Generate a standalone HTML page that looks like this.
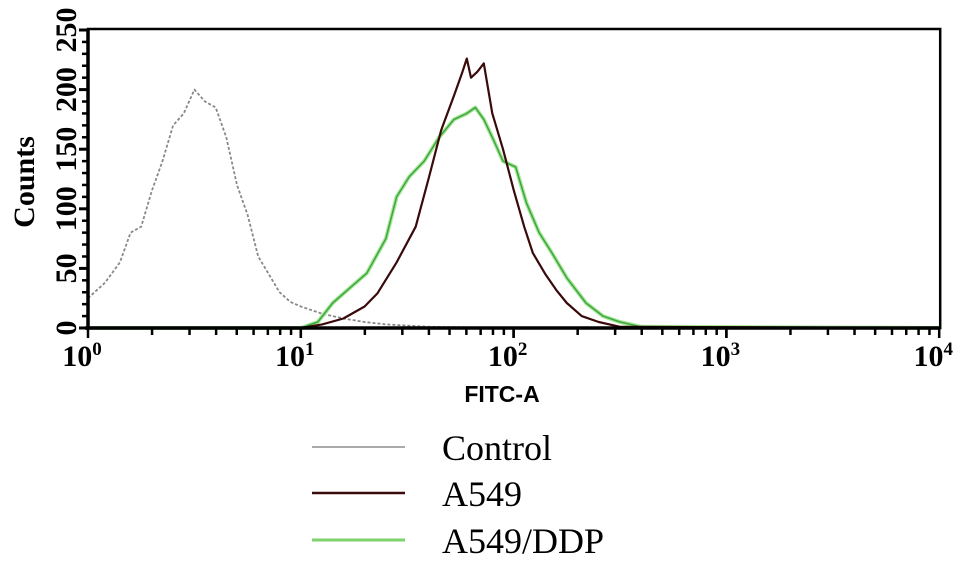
<!DOCTYPE html>
<html><head><meta charset="utf-8"><style>
body{margin:0;background:#fff;width:969px;height:572px;overflow:hidden}
svg{display:block}
.tk{font-family:"Liberation Serif",serif;font-weight:bold;font-size:30px;fill:#000}
</style></head><body>
<svg id="chart" width="969" height="572" xmlns="http://www.w3.org/2000/svg">
<g id="plot"></g>
<text class="tk" transform="translate(34,182) rotate(-90)" text-anchor="middle" font-size="28">Counts</text>
<text x="502" y="402" text-anchor="middle" font-family="Liberation Sans, sans-serif" font-weight="bold" font-size="23">FITC-A</text>
<g font-family="Liberation Serif, serif" font-size="36">
<g><line x1="312" y1="447" x2="405" y2="447" stroke="#aaa" stroke-width="2"/><text x="442" y="460">Control</text></g>
<g><line x1="312" y1="493" x2="405" y2="493" stroke="#3a0a0a" stroke-width="2.5"/><text x="442" y="506">A549</text></g>
<g><line x1="312" y1="540" x2="405" y2="540" stroke="#7fd36a" stroke-width="3"/><text x="442" y="553">A549/DDP</text></g>
</g>
</svg>
<script>
const yTicks=[0,50,100,150,200,250];
const xDecades=[0,1,2,3,4];
const controlLog=[0,0.08,0.15,0.2,0.25,0.3,0.35,0.4,0.45,0.5,0.55,0.6,0.65,0.7,0.75,0.8,0.85,0.9,0.95,1.0,1.1,1.2,1.3,1.4,1.5,1.6,1.8,2.0,4];
const controlCounts=[25,38,55,80,85,115,140,170,180,200,190,185,160,120,95,60,45,30,22,18,12,8,5,3,2,1,0.5,0,0];
const a549Log=[0,1.0,1.1,1.2,1.3,1.36,1.45,1.54,1.6,1.66,1.72,1.76,1.78,1.8,1.83,1.86,1.9,1.95,2.0,2.05,2.09,2.15,2.2,2.25,2.32,2.4,2.5,4];
const a549Counts=[0,0,3,8,18,29,55,85,125,166,195,215,226,210,215,222,180,150,116,85,63,45,32,21,10,5,1,0];
const ddpLog=[0,1.0,1.08,1.15,1.22,1.31,1.4,1.45,1.51,1.58,1.65,1.72,1.78,1.82,1.86,1.9,1.95,2.01,2.06,2.12,2.18,2.25,2.34,2.42,2.5,2.6,4];
const ddpCounts=[0,0,5,21,32,46,75,110,127,140,160,175,180,185,175,160,140,135,105,80,63,42,21,10,5,1,0];
const X0=88,DEC=212.8,Y0=328,YS=1.192;
const xs=l=>X0+l*DEC, ys=c=>Y0-c*YS;
const NS="http://www.w3.org/2000/svg";
const plot=document.getElementById('plot');
function mk(t,a){const e=document.createElementNS(NS,t);for(const k in a)e.setAttribute(k,a[k]);return e;}
function series(L,C,stroke,w,dash,name){
  let d="";L.forEach((l,i)=>{d+=(i?"L":"M")+xs(l).toFixed(1)+","+ys(C[i]).toFixed(1);});
  const p=mk('path',{d:d,fill:'none',stroke:stroke,'stroke-width':w,'stroke-linejoin':'round'});
  if(dash)p.setAttribute('stroke-dasharray',dash);
  
  
  plot.appendChild(p);
}
const fr=mk('rect',{x:X0,y:29,width:xs(4)-X0+1,height:Y0-29,fill:'none',stroke:'#000','stroke-width':2.5});


plot.appendChild(fr);
series(controlLog,controlCounts,'#888',1.8,'3,2','series-control');
series(ddpLog,ddpCounts,'#a8e49a',4,null,'series-a549-ddp-glow');
series(ddpLog,ddpCounts,'#3aa83a',1.5,null,'series-a549-ddp');
series(a549Log,a549Counts,'#3a0a0a',2.2,null,'series-a549');
const xa=mk('line',{x1:X0-3,y1:Y0,x2:xs(4)+1,y2:Y0,stroke:'#000','stroke-width':3.5});


plot.appendChild(xa);
const ya=mk('line',{x1:X0,y1:29,x2:X0,y2:Y0+2,stroke:'#000','stroke-width':3.5});


plot.appendChild(ya);
for(let c=0;c<=250;c+=10){
  const big=c%50===0;
  const t=mk('line',{x1:X0-(big?9:6),y1:ys(c),x2:X0,y2:ys(c),stroke:'#000','stroke-width':big?3:2.5});
  
  
  plot.appendChild(t);
}
yTicks.forEach(v=>{
  const t=mk('text',{class:'tk',transform:`translate(${X0-12},${ys(v)}) rotate(-90)`,'text-anchor':'middle'});
  t.textContent=v;
  
  
  plot.appendChild(t);
});
for(let d=0;d<4;d++)for(let m=1;m<=10;m++){
  const x=xs(d+Math.log10(m));
  const t=mk('line',{x1:x,y1:Y0,x2:x,y2:Y0+(m===1||m===10?10:7),stroke:'#000','stroke-width':2.5});
  
  
  plot.appendChild(t);
}
xDecades.forEach(d=>{
  const t=mk('text',{class:'tk',x:xs(d)-6,y:366,'text-anchor':'middle','font-size':31});
  t.textContent='10';
  const s=mk('tspan',{dy:-11,'font-size':19});s.textContent=String(d);t.appendChild(s);
  
  
  plot.appendChild(t);
});
</script>
</body></html>
